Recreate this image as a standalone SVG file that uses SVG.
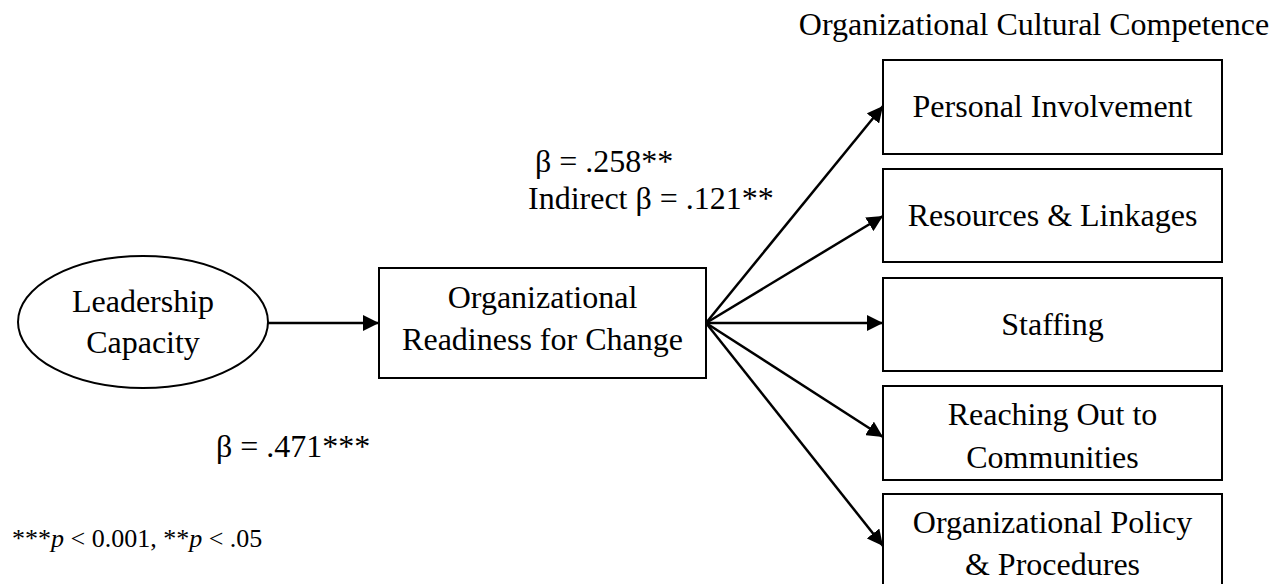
<svg xmlns="http://www.w3.org/2000/svg" width="1283" height="584" viewBox="0 0 1283 584">
<style>
text{font-family:"Liberation Serif","Times New Roman",serif;font-size:32px;fill:#000}
.c{text-anchor:middle}
.box{fill:#fff;stroke:#000;stroke-width:2}
.edge{stroke:#000;stroke-width:2.5;fill:none;marker-end:url(#ah)}
.note{font-size:26px}
</style>
<defs>
<marker id="ah" markerUnits="userSpaceOnUse" markerWidth="17" markerHeight="16" refX="16" refY="8" orient="auto">
<path d="M0,0 L16,8 L0,16 z" fill="#000"/>
</marker>
</defs>
<rect width="1283" height="584" fill="#fff"/>
<text x="1034" y="35" class="c">Organizational Cultural Competence</text>
<g id="connectors">
<line class="edge" x1="268" y1="323" x2="379" y2="323"/>
<line class="edge" x1="706" y1="323" x2="883" y2="106"/>
<line class="edge" x1="706" y1="323" x2="883" y2="216"/>
<line class="edge" x1="706" y1="323" x2="883" y2="323"/>
<line class="edge" x1="706" y1="323" x2="883" y2="437"/>
<line class="edge" x1="706" y1="323" x2="883" y2="546"/>
</g>
<g id="leadership">
<ellipse cx="143" cy="322" rx="125" ry="66" class="box"/>
<text x="143" y="312" class="c">Leadership</text>
<text x="143" y="353" class="c">Capacity</text>
</g>
<g id="readiness">
<rect x="379" y="268" width="327" height="110" class="box"/>
<text x="542.5" y="308" class="c">Organizational</text>
<text x="542.5" y="350" class="c">Readiness for Change</text>
</g>
<g id="personal">
<rect x="883" y="60" width="339" height="94" class="box"/>
<text x="1052.5" y="117" class="c">Personal Involvement</text>
</g>
<g id="resources">
<rect x="883" y="169" width="339" height="93" class="box"/>
<text x="1052.5" y="226" class="c">Resources &amp; Linkages</text>
</g>
<g id="staffing">
<rect x="883" y="278" width="339" height="93" class="box"/>
<text x="1052.5" y="335" class="c">Staffing</text>
</g>
<g id="reaching">
<rect x="883" y="386" width="339" height="94" class="box"/>
<text x="1052.5" y="425" class="c">Reaching Out to</text>
<text x="1052.5" y="468" class="c">Communities</text>
</g>
<g id="policy">
<rect x="883" y="494" width="339" height="100" class="box"/>
<text x="1052.5" y="533" class="c">Organizational Policy</text>
<text x="1052.5" y="575" class="c">&amp; Procedures</text>
</g>
<g id="labels">
<text x="535" y="172">β = .258**</text>
<text x="528" y="209">Indirect β = .121**</text>
<text x="216" y="457">β = .471***</text>
<text x="12" y="547" class="note">***<tspan font-style="italic">p</tspan> &lt; 0.001, **<tspan font-style="italic">p</tspan> &lt; .05</text>
</g>
</svg>
